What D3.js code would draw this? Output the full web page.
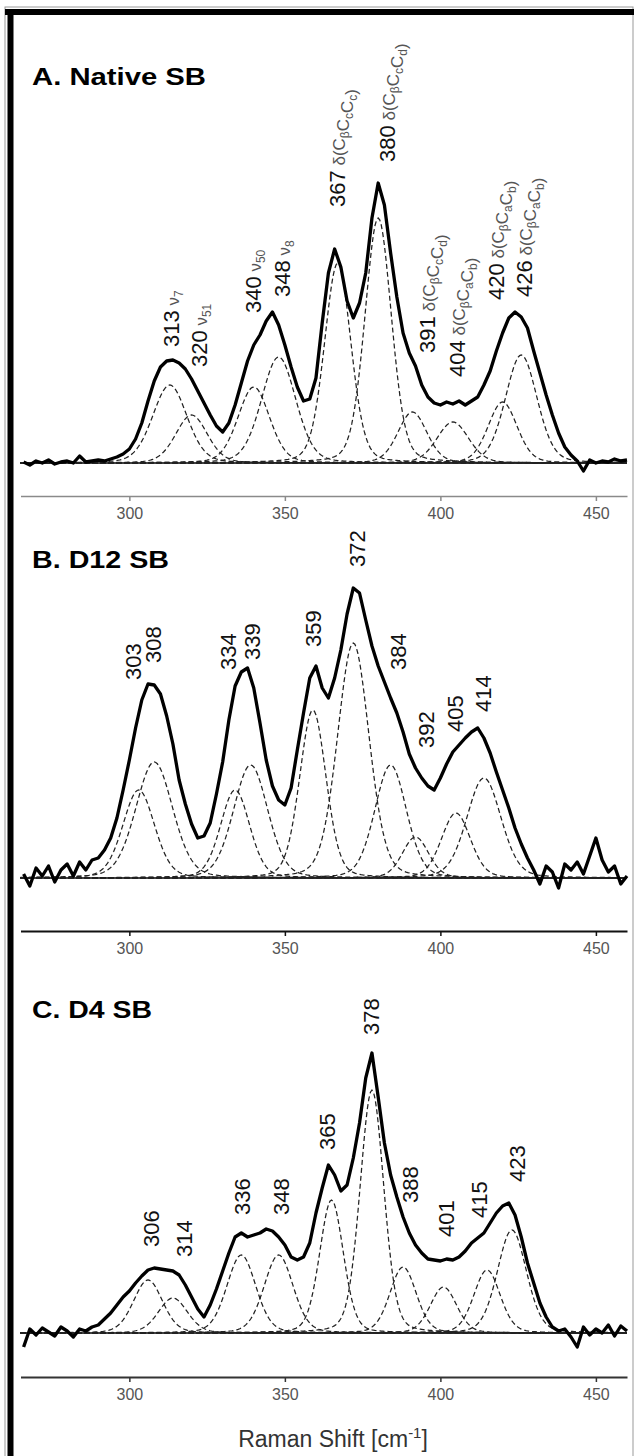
<!DOCTYPE html>
<html>
<head>
<meta charset="utf-8">
<script src="https://cdn.jsdelivr.net/npm/d3@7"></script>
<style>
body { margin: 0; background: #fff; }
svg { display: block; font-family: "Liberation Sans", Arial, sans-serif; }
</style>
</head>
<body>
<svg width="634" height="1456"></svg>
<script>
// measured spectra, one value every 2 cm-1 starting at 266 cm-1
var shiftStart = 266, shiftStep = 2;

var specA = [1, -2, 2, 0, 3, -1, 1, 2, 0, 7, 1, 2, 3, 2, 4, 6, 9, 14, 24, 40,
  62, 82, 96, 102, 103, 100, 94, 84, 72, 60, 48, 37, 31, 40, 58, 80, 102, 118, 128, 142,
  151, 138, 118, 96, 76, 62, 64, 85, 140, 190, 214, 196, 162, 145, 160, 190, 245, 280, 258, 210,
  166, 130, 110, 97, 78, 66, 60, 58, 61, 59, 62, 58, 62, 66, 78, 92, 112, 130, 145, 151,
  146, 135, 112, 90, 68, 48, 30, 16, 8, 2, -8, 3, 0, 2, 1, 4, 2, 3];

var specB = [4, -8, 10, 2, 12, -4, 8, 14, 2, 16, 8, 18, 20, 28, 40, 60, 88, 118, 150, 178,
  194, 193, 184, 162, 134, 98, 74, 54, 40, 42, 55, 84, 116, 158, 192, 206, 210, 190, 155, 118,
  92, 78, 73, 90, 128, 165, 200, 212, 190, 180, 200, 228, 264, 290, 285, 258, 232, 212, 196, 180,
  165, 146, 124, 110, 100, 92, 88, 100, 114, 126, 133, 140, 146, 150, 140, 125, 106, 88, 70, 50,
  34, 20, 8, -6, 12, 6, -10, 14, 8, 16, 4, 22, 40, 18, 6, 12, -6, 2];

var specC = [-14, 4, -2, 5, 1, -3, 6, 2, -4, 4, 2, 6, 8, 14, 20, 28, 36, 42, 50, 57,
  63, 65, 64, 63, 62, 58, 48, 36, 24, 16, 28, 44, 62, 80, 96, 100, 96, 98, 100, 104,
  102, 96, 88, 76, 73, 76, 90, 120, 145, 168, 158, 142, 148, 175, 210, 255, 280, 236, 190, 158,
  136, 116, 100, 88, 80, 74, 73, 72, 74, 73, 76, 82, 90, 95, 100, 110, 120, 127, 130, 118,
  96, 70, 50, 30, 16, 6, 2, 4, -4, -14, 6, -2, 4, 0, 8, -3, 7, 2];

// fitted bands: centre (cm-1), peak height, FWHM (cm-1)
var bandsA = [313, 320, 340, 348, 367, 380, 391, 404, 420, 426];
var heightsA = [78, 48, 76, 106, 200, 245, 51, 41, 61, 108];
var widthsA = [13, 12, 12, 13, 10, 10, 11, 12, 11, 12];

var bandsB = [303, 308, 334, 339, 359, 372, 384, 392, 405, 414];
var heightsB = [88, 116, 88, 113, 168, 235, 113, 41, 65, 100];
var widthsB = [12, 14, 11, 13, 10, 12, 12, 10, 11, 13];

var bandsC = [306, 314, 336, 348, 365, 378, 388, 401, 415, 423];
var heightsC = [53, 35, 78, 78, 133, 243, 66, 46, 63, 103];
var widthsC = [11, 11, 11, 11, 9, 9, 10, 10, 10, 11];

// band assignments of panel A ("_" marks a subscript)
var assignA = ["ν_7", "ν_{51}", "ν_{50}", "ν_8", "δ(C_βC_cC_c)", "δ(C_βC_cC_d)",
  "δ(C_βC_cC_d)", "δ(C_βC_aC_b)", "δ(C_βC_aC_b)", "δ(C_βC_aC_b)"];

// where each rotated label sits: shift (cm-1) and level (intensity units)
var labelPosA = [313.6, 322.7, 339.8, 349.1, 366.8, 382.9, 395.7, 405.5, 418.2, 427.2];
var labelLevelA = [116, 96, 150, 166, 256, 301, 110, 86, 163, 166];
var labelPosB = [301.3, 307.8, 331.9, 339.7, 359.2, 373.2, 386.5, 395.6, 404.7, 413.8];
var labelLevelB = [198, 215, 208, 218, 231, 311, 208, 130, 146, 166];
var labelPosC = [307.2, 317.6, 336.4, 348.8, 363.7, 378, 390.4, 402.1, 412.5, 424.8];
var labelLevelC = [86, 76, 118, 118, 183, 298, 130, 96, 115, 151];

var titles = ["A. Native SB", "B. D12 SB", "C. D4 SB"];
var tickValues = [300, 350, 400, 450];

var svg = d3.select("svg");

var x = d3.scaleLinear().domain([265, 460]).range([20.5, 627]);

var panels = [
  { title: titles[0], spec: specA, bands: bandsA, heights: heightsA, widths: widthsA,
    lpos: labelPosA, llev: labelLevelA, assign: assignA,
    base: 463, axisY: 496, titleY: 85, titleLen: 174, axisColor: "#8a8a8a", axisW: 1.3 },
  { title: titles[1], spec: specB, bands: bandsB, heights: heightsB, widths: widthsB,
    lpos: labelPosB, llev: labelLevelB, assign: null,
    base: 878, axisY: 931, titleY: 568, titleLen: 137, axisColor: "#111", axisW: 2 },
  { title: titles[2], spec: specC, bands: bandsC, heights: heightsC, widths: widthsC,
    lpos: labelPosC, llev: labelLevelC, assign: null,
    base: 1333, axisY: 1377, titleY: 1018, titleLen: 120, axisColor: "#333", axisW: 2 }
];

// frame
svg.append("rect").attr("x", 5).attr("y", 7).attr("width", 628).attr("height", 1460)
  .attr("fill", "none").attr("stroke", "#999").attr("stroke-width", 1);
svg.append("rect").attr("x", 5).attr("y", 9).attr("width", 629).attr("height", 6).attr("fill", "#000");
svg.append("rect").attr("x", 7.5).attr("y", 9).attr("width", 6).attr("height", 1447).attr("fill", "#000");

function splitSub(s) {
  var out = [], re = /_\{([^}]*)\}|_(.)/g, last = 0, m;
  while ((m = re.exec(s))) {
    if (m.index > last) out.push({ t: s.slice(last, m.index), sub: false });
    out.push({ t: m[1] || m[2], sub: true });
    last = re.lastIndex;
  }
  if (last < s.length) out.push({ t: s.slice(last), sub: false });
  return out;
}

// pseudo-Voigt band shape, mostly Gaussian
function bandShape(v, c, h, w) {
  var u = (v - c) / (w / 2);
  return h * (0.8 * Math.exp(-Math.LN2 * u * u) + 0.2 / (1 + u * u));
}

var compX = d3.range(265, 460.01, 0.5);

panels.forEach(function(p) {
  var y = d3.scaleLinear().domain([0, 300]).range([p.base, p.base - 300]);
  var g = svg.append("g");

  // baseline
  g.append("line")
    .attr("x1", x(265)).attr("x2", x(460))
    .attr("y1", y(0)).attr("y2", y(0))
    .attr("stroke", "#000").attr("stroke-width", 1.4);

  // fitted components
  var comp = d3.line().x(function(d) { return x(d[0]); }).y(function(d) { return y(d[1]); });
  p.bands.forEach(function(c, i) {
    var h = p.heights[i], w = p.widths[i];
    var pts = compX.map(function(v) { return [v, bandShape(v, c, h, w)]; });
    g.append("path").datum(pts)
      .attr("d", comp)
      .attr("fill", "none").attr("stroke", "#222")
      .attr("stroke-width", 1.25).attr("stroke-dasharray", "5,3");
  });

  // measured spectrum
  var spec = d3.line()
    .x(function(d, i) { return x(shiftStart + i * shiftStep); })
    .y(function(d) { return y(d); });
  g.append("path").datum(p.spec)
    .attr("d", spec)
    .attr("fill", "none").attr("stroke", "#000")
    .attr("stroke-width", 3.3).attr("stroke-linejoin", "round");

  // axis
  var ax = g.append("g")
    .attr("transform", "translate(0," + p.axisY + ")")
    .call(d3.axisBottom(x).tickValues(tickValues).tickSize(5).tickSizeOuter(0).tickPadding(7));
  ax.select(".domain").attr("stroke", p.axisColor).attr("stroke-width", p.axisW);
  ax.selectAll(".tick line").attr("stroke", p.axisColor).attr("stroke-width", 1.5);
  ax.selectAll(".tick text")
    .attr("fill", "#555").attr("font-size", 16)
    .attr("font-family", "'Liberation Sans', Arial, sans-serif");

  // title
  g.append("text")
    .attr("x", 32).attr("y", p.titleY)
    .attr("font-size", 24).attr("font-weight", "bold")
    .attr("textLength", p.titleLen).attr("lengthAdjust", "spacingAndGlyphs")
    .text(p.title);

  // band labels
  p.bands.forEach(function(c, i) {
    var lx = x(p.lpos[i]) + 7.5, ly = y(p.llev[i]);
    var t = g.append("text")
      .attr("x", lx).attr("y", ly)
      .attr("transform", "rotate(-90," + lx + "," + ly + ")")
      .attr("font-size", 22).attr("fill", "#111");
    t.append("tspan").text(c);
    if (p.assign) {
      t.append("tspan").attr("font-size", 17).attr("fill", "#555").text(" ");
      splitSub(p.assign[i]).forEach(function(part) {
        if (part.sub) {
          t.append("tspan").attr("font-size", 12).attr("fill", "#555")
            .attr("dy", 4).text(part.t);
          t.append("tspan").attr("font-size", 17).attr("dy", -4).text("");
        } else {
          t.append("tspan").attr("font-size", 17).attr("fill", "#555").text(part.t);
        }
      });
    }
  });
});

// x axis title
var xt = svg.append("text")
  .attr("x", 333).attr("y", 1447)
  .attr("text-anchor", "middle")
  .attr("font-size", 23).attr("fill", "#333");
xt.append("tspan").text("Raman Shift [cm");
xt.append("tspan").attr("font-size", 15).attr("dy", -9).text("-1");
xt.append("tspan").attr("dy", 9).text("]");
</script>
</body>
</html>
